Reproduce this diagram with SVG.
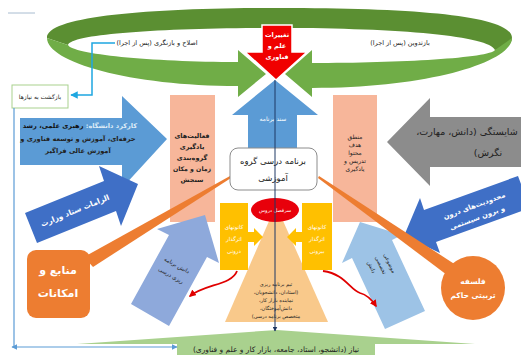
<svg xmlns="http://www.w3.org/2000/svg" width="521" height="355" viewBox="0 0 521 355">
<defs>
<style>
.t{font-family:"DejaVu Sans",sans-serif;text-anchor:middle;direction:rtl}
.w{fill:#fff}
.d{fill:#222}
.b{font-weight:bold}
</style>
<marker id="ab" viewBox="0 0 10 10" refX="9" refY="5" markerWidth="5" markerHeight="5" orient="auto-start-reverse"><path d="M0,0 L10,5 L0,10 z" fill="#5B9BD5"/></marker>
<marker id="ac" viewBox="0 0 10 10" refX="9" refY="5" markerWidth="5" markerHeight="5" orient="auto"><path d="M0,0 L10,5 L0,10 z" fill="#1EA7E1"/></marker>
<marker id="an" viewBox="0 0 10 10" refX="9" refY="5" markerWidth="5" markerHeight="5" orient="auto"><path d="M0,0 L10,5 L0,10 z" fill="#1F3864"/></marker>
<marker id="ar" viewBox="0 0 10 10" refX="8" refY="5" markerWidth="4" markerHeight="4" orient="auto"><path d="M0,0 L10,5 L0,10 z" fill="#E00000"/></marker>
</defs>
<rect width="521" height="355" fill="#fff"/>
<line x1="8" y1="13" x2="35" y2="13" stroke="#A8BCD0" stroke-width="1"/>

<g id="loop">
<path d="M47,38 C47,16 150,8 280,8 C420,8 512,16 512,38 C512,44 506,48 495,50 C490,36 400,28 280,28 C160,28 72,34 68,45 Z" fill="#5B8F32"/>
<path d="M47,38 C47,62 130,86 238,86 L238,97 L266,74 L238,50 L238,62 C150,62 72,54 68,45 Z" fill="#70AD47"/>
<path d="M512,38 C512,62 430,88 312,88 L312,97 L285,74 L312,50 L312,63 C400,63 490,58 495,50 Z" fill="#70AD47"/>
<text class="t d" x="157" y="45" font-size="6.5">اصلاح و بازنگری (پس از اجرا)</text>
<text class="t d" x="400" y="45" font-size="6.5">بازتدوین (پس از اجرا)</text>
</g>

<g id="bottom-need">
<path d="M77,344 L277,330 L475,344 L375,344 L375,355 L177,355 L177,344 Z" fill="#A9D18E"/>
<text class="t d" x="276" y="352" font-size="7.5">نیاز (دانشجو، استاد، جامعه، بازار کار و علم و فناوری)</text>
</g>

<g id="return-box">
<rect x="12" y="85" width="56" height="23" fill="#fff" stroke="#A9D18E" stroke-width="1"/>
<text class="t d" x="40" y="99" font-size="6">بازگشت به نیازها</text>
</g>

<g id="sanad">
<polygon points="275,80 318,115 297,115 297,150 248,150 248,115 232,115" fill="#5B9BD5"/>
<text class="t w" x="273" y="121" font-size="6">سند برنامه</text>
</g>

<g id="red-change">
<polygon points="262,25 292,25 292,52 307,52 276,80 245,52 262,52" fill="#F00000" stroke="#fff" stroke-width="1.5"/>
<text class="t w b" x="277" y="37" font-size="6.5">تغییرات</text>
<text class="t w b" x="277" y="48" font-size="6.5">علم و</text>
<text class="t w b" x="277" y="59" font-size="6.5">فناوری</text>
</g>

<g id="left-function">
<polygon points="20,118 122,118 122,96 167,139 122,188 122,165 20,165" fill="#5B9BD5"/>
<text class="t b" x="80" y="128" font-size="6.6"><tspan fill="#DDEBF7">کارکرد دانشگاه:</tspan><tspan fill="#111"> رهبری علمی، رشد</tspan></text>
<text class="t d b" x="78" y="141" font-size="6.6">حرفه‌ای، آموزش و توسعه فناوری و</text>
<text class="t d b" x="78" y="153" font-size="6.6">آموزش عالی فراگیر</text>
</g>

<g id="competency">
<polygon points="387,142 430,98 430,117 521,117 521,167 430,167 430,186" fill="#8C8C8C"/>
<text class="t d" x="467" y="135" font-size="9.5">شایستگی (دانش، مهارت،</text>
<text class="t d" x="488" y="156" font-size="9.5">نگرش)</text>
</g>

<g id="left-activities">
<rect x="170" y="95" width="45" height="127" fill="#F7B69A"/>
<text class="t d b" x="192" y="138" font-size="6.5">فعالیت‌های</text>
<text class="t d b" x="192" y="149" font-size="6.5">یادگیری</text>
<text class="t d b" x="192" y="160" font-size="6.5">گروه‌بندی</text>
<text class="t d b" x="192" y="171" font-size="6.2">زمان و مکان</text>
<text class="t d b" x="192" y="182" font-size="6.5">سنجش</text>
</g>

<g id="right-logic">
<rect x="333" y="95" width="44" height="127" fill="#F7B69A"/>
<text class="t d" x="355" y="139" font-size="6">منطق</text>
<text class="t d" x="355" y="147" font-size="6">هدف</text>
<text class="t d" x="355" y="155" font-size="6">محتوا</text>
<text class="t d" x="355" y="163" font-size="6">تدریس و</text>
<text class="t d" x="355" y="171" font-size="6">یادگیری</text>
</g>

<g id="ministry">
<polygon points="25,213 104,181 99,166 138,184 121,226 116,211 37,243" fill="#3F6FC6"/>
<text class="t w b" x="76" y="213" font-size="7.5" transform="rotate(-22 76 213)">الزامات ستاد وزارت</text>
</g>

<g id="limits">
<polygon points="404,236 420,198 424,210 518,176 530,208 436,242 440,253" fill="#3F6FC6"/>
<text class="t w b" x="475" y="208" font-size="7" transform="rotate(-20 475 208)">محدودیت‌های درون</text>
<text class="t w b" x="478" y="220" font-size="7" transform="rotate(-20 478 220)">و برون سیستمی</text>
</g>

<g id="planning-knowledge">
<polygon points="131,304 169,235 157,229 205,215 219,263 207,257 169,326" fill="#8EA9DB"/>
<text class="t d" x="176" y="267" font-size="5.5" transform="rotate(29 176 267)">دانش برنامه</text>
<text class="t d" x="170" y="277" font-size="5.5" transform="rotate(29 170 277)">ریزی درسی</text>
</g>

<g id="subject-knowledge">
<polygon points="385,329 352,258 342,263 360,222 402,235 392,240 425,311" fill="#9DC3E6"/>
<text class="t d" x="370" y="268" font-size="5.5" transform="rotate(65 370 268)">دانش</text>
<text class="t d" x="379" y="266" font-size="5.5" transform="rotate(65 379 266)">تخصصی</text>
<text class="t d" x="388" y="264" font-size="5.5" transform="rotate(65 388 264)">موضوعی</text>
</g>

<g id="beams">
<polygon points="84,257 93,267 231,178 230,176" fill="#ED7D31"/>
<polygon points="459,267 451,278 318,178 319,176" fill="#ED7D31"/>
</g>

<g id="resources">
<rect x="27" y="250" width="63" height="68" rx="9" fill="#ED7D31"/>
<text class="t w b" x="58" y="274" font-size="11">منابع و</text>
<text class="t w b" x="58" y="297" font-size="11">امکانات</text>
</g>

<g id="philosophy">
<circle cx="473" cy="288" r="32" fill="#ED7D31"/>
<text class="t w b" x="473" y="284" font-size="7.5">فلسفه</text>
<text class="t w b" x="473" y="298" font-size="7.5">تربیتی حاکم</text>
</g>

<g id="team">
<polygon points="276,205 328,322 225,322" fill="#F9C98B"/>
<text class="t d" x="276" y="286" font-size="5">تیم برنامه ریزی</text>
<text class="t d" x="276" y="294" font-size="5">(استادان، دانشجویان،</text>
<text class="t d" x="276" y="302" font-size="5">نماینده بازار کار،</text>
<text class="t d" x="276" y="310" font-size="5">دانش‌آموختگان،</text>
<text class="t d" x="276" y="318" font-size="5">متخصص برنامه درسی)</text>
</g>

<g id="inner-foci">
<rect x="220" y="203" width="28" height="67" fill="#FFC000"/>
<polygon points="248,232 254,232 254,228 263,237 254,246 254,242 248,242" fill="#FFC000"/>
<text class="t w" x="234" y="229" font-size="5.5">کانونهای</text>
<text class="t w" x="234" y="241" font-size="5.5">اثرگذار</text>
<text class="t w" x="234" y="253" font-size="5.5">درونی</text>
</g>

<g id="outer-foci">
<rect x="302" y="203" width="30" height="67" fill="#FFC000"/>
<polygon points="302,232 296,232 296,228 287,237 296,246 296,242 302,242" fill="#FFC000"/>
<text class="t w" x="317" y="229" font-size="5.5">کانونهای</text>
<text class="t w" x="317" y="241" font-size="5.5">اثرگذار</text>
<text class="t w" x="317" y="253" font-size="5.5">بیرونی</text>
</g>

<g id="headings">
<ellipse cx="275" cy="210" rx="24" ry="12" fill="#E8000B"/>
<text class="t w" x="275" y="212" font-size="5">سرفصل دروس</text>
</g>

<g id="center-box">
<rect x="230" y="148" width="87" height="42" rx="8" fill="#fff" stroke="#8C8C8C" stroke-width="1"/>
<text class="t d" x="273" y="164" font-size="8.5">برنامه درسی گروه</text>
<text class="t d" x="273" y="181" font-size="8.5">آموزشی</text>
</g>

<g id="connectors" fill="none">
<path d="M115,43 L92,43 L92,95 L71,95" stroke="#1EA7E1" stroke-width="1.5" marker-end="url(#ac)"/>
<path d="M14,108 L14,347" stroke="#5B9BD5" stroke-width="1.2"/>
<path d="M12,347 L177,347" stroke="#5B9BD5" stroke-width="1.2" marker-start="url(#ab)" marker-end="url(#ab)"/>
<path d="M275,80 L275,331" stroke="#1F3864" stroke-width="1" marker-end="url(#an)"/>
<path d="M237,271 C232,285 205,284 190,296" stroke="#E00000" stroke-width="1.8" marker-end="url(#ar)"/>
<path d="M323,271 C345,274 350,290 360,293 C368,295 372,300 376,306" stroke="#E00000" stroke-width="1.8" marker-end="url(#ar)"/>
</g>
</svg>
